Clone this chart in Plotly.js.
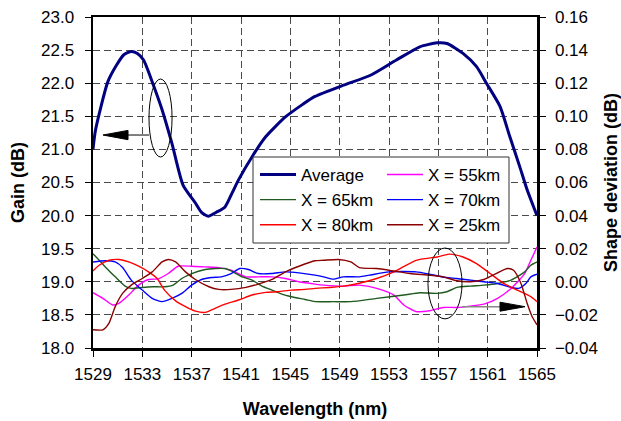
<!DOCTYPE html>
<html>
<head>
<meta charset="utf-8">
<script src="https://cdn.plot.ly/plotly-3.0.1.min.js"></script>
<style>html,body{margin:0;padding:0;background:#fff;}#chart{width:621px;height:421px;}</style>
</head>
<body>
<div id="chart"></div>
<script>
// ---- Data ----
const xTicks = [1529,1533,1537,1541,1545,1549,1553,1557,1561,1565];

const avgWl = [1529.0,1529.2,1530.2,1530.9,1531.5,1532.1,1532.6,1533.1,1533.9,1534.6,1535.4,1536.3,1537.3,1537.8,1538.35,1539.0,1539.7,1540.3,1540.8,1541.9,1543.0,1544.6,1546.0,1547.0,1549.3,1551.5,1553.6,1555.5,1556.9,1557.7,1559.0,1560.1,1560.9,1562.0,1562.8,1563.6,1564.2,1565.0];
const avgGain = [21.00,21.29,22.02,22.27,22.43,22.48,22.45,22.35,21.97,21.60,21.09,20.46,20.19,20.05,19.99,20.05,20.13,20.35,20.54,20.89,21.19,21.49,21.68,21.80,21.97,22.12,22.35,22.55,22.61,22.60,22.45,22.25,22.00,21.65,21.19,20.74,20.39,20.00];

const wl55 = [1529.0,1529.8,1530.6,1531.1,1531.9,1532.7,1533.5,1534.3,1535.1,1535.9,1537.0,1538.1,1539.2,1540.2,1541.4,1542.4,1543.5,1544.6,1545.7,1547.0,1547.7,1549.3,1550.6,1552.0,1553.4,1554.2,1555.2,1556.3,1557.4,1558.5,1559.6,1560.7,1561.8,1562.9,1564.0,1564.5,1565.0];
const dev55 = [-0.0066,-0.010,-0.014,-0.013,-0.008,-0.002,0.0014,0.0018,0.005,0.0094,0.0094,0.009,0.0086,0.007,0.003,0.003,0.003,0.002,0.0,-0.0014,-0.002,-0.0026,-0.002,-0.004,-0.008,-0.014,-0.018,-0.0175,-0.0155,-0.0155,-0.0147,-0.0135,-0.010,-0.004,0.005,0.013,0.021];

const wl65 = [1529.0,1529.5,1530.0,1530.8,1531.6,1532.1,1533.0,1533.8,1534.8,1535.5,1536.2,1537.0,1538.1,1538.9,1539.7,1540.2,1541.1,1541.9,1542.7,1543.5,1544.3,1545.1,1546.2,1547.0,1548.5,1549.9,1552.0,1554.2,1555.5,1556.9,1557.7,1558.5,1559.6,1560.7,1561.8,1562.9,1564.0,1564.5,1565.0];
const dev65 = [0.017,0.013,0.009,0.003,-0.0026,-0.004,-0.0034,-0.003,-0.003,-0.002,0.002,0.005,0.0074,0.008,0.008,0.0066,0.003,0.001,-0.0026,-0.005,-0.0074,-0.009,-0.0107,-0.012,-0.012,-0.012,-0.010,-0.008,-0.0066,-0.007,-0.006,-0.0034,-0.0026,-0.002,-0.001,0.001,0.006,0.010,0.012];

const wl70 = [1529.0,1530.0,1530.8,1531.4,1532.1,1533.0,1533.8,1534.6,1535.4,1536.2,1537.0,1537.8,1538.6,1539.4,1540.2,1540.9,1541.6,1542.4,1543.5,1544.6,1545.7,1547.0,1547.7,1548.5,1549.3,1550.6,1551.4,1553.0,1555.2,1556.3,1557.6,1558.5,1559.6,1560.7,1561.8,1562.9,1563.5,1564.1,1564.5,1565.0];
const dev70 = [0.012,0.0127,0.012,0.0086,0.001,-0.005,-0.010,-0.012,-0.010,-0.007,-0.002,0.0014,0.0026,0.003,0.005,0.008,0.0074,0.005,0.005,0.006,0.0054,0.004,0.003,0.0016,0.003,0.003,0.004,0.006,0.006,0.0046,0.0026,0.002,0.001,0.0,-0.001,-0.0034,-0.004,-0.001,0.003,0.0046];

const wl80 = [1529.0,1529.5,1530.3,1531.1,1531.9,1532.7,1533.5,1534.2,1534.8,1535.7,1536.5,1537.3,1538.1,1538.9,1539.7,1540.8,1541.9,1543.0,1544.0,1545.1,1546.2,1547.0,1548.2,1549.3,1550.5,1552.0,1553.4,1555.2,1556.9,1557.9,1559.0,1560.1,1561.2,1562.3,1563.4,1564.5,1565.0];
const dev80 = [0.0066,0.010,0.013,0.0135,0.012,0.0094,0.006,0.002,-0.005,-0.0115,-0.015,-0.0177,-0.0185,-0.016,-0.0135,-0.011,-0.008,-0.0064,-0.006,-0.005,-0.0046,-0.004,-0.0034,-0.0026,-0.001,0.002,0.006,0.013,0.015,0.0167,0.015,0.011,0.005,-0.001,-0.005,-0.009,-0.012];

const wl25 = [1529.0,1529.8,1530.3,1530.8,1531.4,1532.1,1533.0,1533.8,1534.6,1535.1,1535.7,1536.5,1537.3,1538.4,1539.2,1540.2,1541.4,1542.4,1543.5,1544.6,1545.7,1547.0,1547.7,1548.9,1549.9,1550.6,1552.0,1553.0,1554.7,1556.3,1557.4,1558.5,1559.6,1560.7,1561.8,1562.6,1563.1,1563.7,1564.2,1564.6,1565.0];
const dev25 = [-0.029,-0.029,-0.025,-0.015,-0.007,-0.002,0.002,0.006,0.012,0.0135,0.012,0.006,0.0014,-0.003,-0.0046,-0.0046,-0.0034,-0.0014,0.0014,0.006,0.0094,0.0127,0.013,0.0135,0.012,0.0086,0.008,0.007,0.005,0.004,0.003,0.0006,0.0,0.0014,0.0054,0.008,0.007,-0.001,-0.013,-0.021,-0.026];

const seriesNames = ['Average','X = 55km','X = 65km','X = 70km','X = 80km','X = 25km'];
// ---------------------------------------

const FONT = 'Liberation Sans, Arial, sans-serif';
const devLine = (w, d, name, color, leg) => ({
  x: w, y: d, name: name, type: 'scatter', mode: 'lines', yaxis: 'y2', legend: leg,
  line: {color: color, width: 1.4, shape: 'spline', smoothing: 0.6}
});

// legend column 1: Average, 65km, 80km ; column 2: 55km, 70km, 25km
const traces = [
  {x: avgWl, y: avgGain, name: seriesNames[0], type: 'scatter', mode: 'lines', legend: 'legend',
   line: {color: '#000080', width: 3, shape: 'spline', smoothing: 0.6}},
  devLine(wl55, dev55, seriesNames[1], '#ff00ff', 'legend2'),
  devLine(wl65, dev65, seriesNames[2], '#1f5a1f', 'legend'),
  devLine(wl70, dev70, seriesNames[3], '#0000ff', 'legend2'),
  devLine(wl80, dev80, seriesNames[4], '#ff0000', 'legend'),
  devLine(wl25, dev25, seriesNames[5], '#8b0000', 'legend2')
];

const gridStyle = {showgrid: true, gridcolor: '#4a4a4a', gridwidth: 1, griddash: '7px,4px'};

// plot-area geometry in pixels (for placing the legend box)
const PLOT_L = 93, PLOT_W = 444, PLOT_B = 348, PLOT_H = 331;
const px2fx = p => (p - PLOT_L) / PLOT_W;
const px2fy = p => (PLOT_B - p) / PLOT_H;

const shapes = [
  // legend frame (white box over the curves, legends drawn on top)
  {type: 'rect', xref: 'paper', yref: 'paper', layer: 'above',
   x0: px2fx(253), x1: px2fx(509), y0: px2fy(243), y1: px2fy(157),
   fillcolor: '#fff', line: {color: '#333', width: 1}},
  // left ellipse + arrow (pointing to gain axis)
  {type: 'circle', xref: 'x', yref: 'y', x0: 1533.54, x1: 1535.41, y0: 20.885, y1: 22.063, line: {color: '#000', width: 1}},
  {type: 'line', xref: 'x', yref: 'y', x0: 1531.8, x1: 1533.54, y0: 21.217, y1: 21.217, line: {color: '#000', width: 1}},
  {type: 'path', xref: 'x', yref: 'y', path: 'M1529.81,21.217 L1531.84,21.287 L1531.84,21.147 Z', fillcolor: '#000', line: {color: '#000', width: 1}},
  // right ellipse + arrow (pointing to deviation axis)
  {type: 'circle', xref: 'x', yref: 'y', x0: 1556.16, x1: 1558.92, y0: 18.44, y1: 19.51, line: {color: '#000', width: 1}},
  {type: 'line', xref: 'x', yref: 'y', x0: 1558.92, x1: 1562.1, y0: 18.624, y1: 18.624, line: {color: '#888', width: 1.5}},
  {type: 'path', xref: 'x', yref: 'y', path: 'M1564.03,18.624 L1562.0,18.692 L1562.0,18.556 Z', fillcolor: '#000', line: {color: '#000', width: 1}}
];

const legendBase = {
  xanchor: 'left', yanchor: 'top', orientation: 'v',
  itemwidth: 36, bgcolor: 'rgba(0,0,0,0)', borderwidth: 0,
  font: {family: FONT, size: 17, color: '#000'}
};

const layout = {
  width: 621, height: 421,
  margin: {l: 93, r: 84, t: 17, b: 73},
  paper_bgcolor: '#fff', plot_bgcolor: '#fff',
  font: {family: FONT, size: 17, color: '#000'},
  showlegend: true,
  legend: Object.assign({x: px2fx(255), y: px2fy(157)}, legendBase),
  legend2: Object.assign({x: px2fx(382), y: px2fy(157)}, legendBase),
  xaxis: Object.assign({
    range: [1529, 1565], tickvals: xTicks, ticktext: xTicks.map(String),
    showline: true, linecolor: '#000', linewidth: 2.5, mirror: true,
    ticks: 'outside', ticklen: 6, tickcolor: '#000', tickwidth: 1, ticklabelstandoff: 3,
    zeroline: false, tickfont: {family: FONT, size: 17},
    title: {text: 'Wavelength (nm)', font: {family: FONT, size: 18, weight: 'bold'}, standoff: 20}
  }, gridStyle),
  yaxis: Object.assign({
    range: [18, 23], dtick: 0.5, tick0: 18, tickformat: '.1f',
    showline: true, linecolor: '#000', linewidth: 2.5,
    ticks: 'outside', ticklen: 6, tickcolor: '#000', tickwidth: 1, ticklabelstandoff: 7,
    zeroline: false, tickfont: {family: FONT, size: 17},
    title: {text: 'Gain (dB)', font: {family: FONT, size: 18, weight: 'bold'}, standoff: 12}
  }, gridStyle),
  yaxis2: {
    overlaying: 'y', side: 'right',
    range: [-0.04, 0.16], dtick: 0.02, tick0: -0.04, tickformat: '.2f',
    showgrid: false, zeroline: false,
    showline: true, linecolor: '#000', linewidth: 2.5,
    ticks: 'outside', ticklen: 6, tickcolor: '#000', tickwidth: 1, ticklabelstandoff: 6,
    tickfont: {family: FONT, size: 17},
    title: {text: 'Shape deviation (dB)', font: {family: FONT, size: 18, weight: 'bold'}, standoff: 11}
  },
  shapes: shapes
};

Plotly.newPlot('chart', traces, layout, {staticPlot: true, displayModeBar: false});
</script>
</body>
</html>
